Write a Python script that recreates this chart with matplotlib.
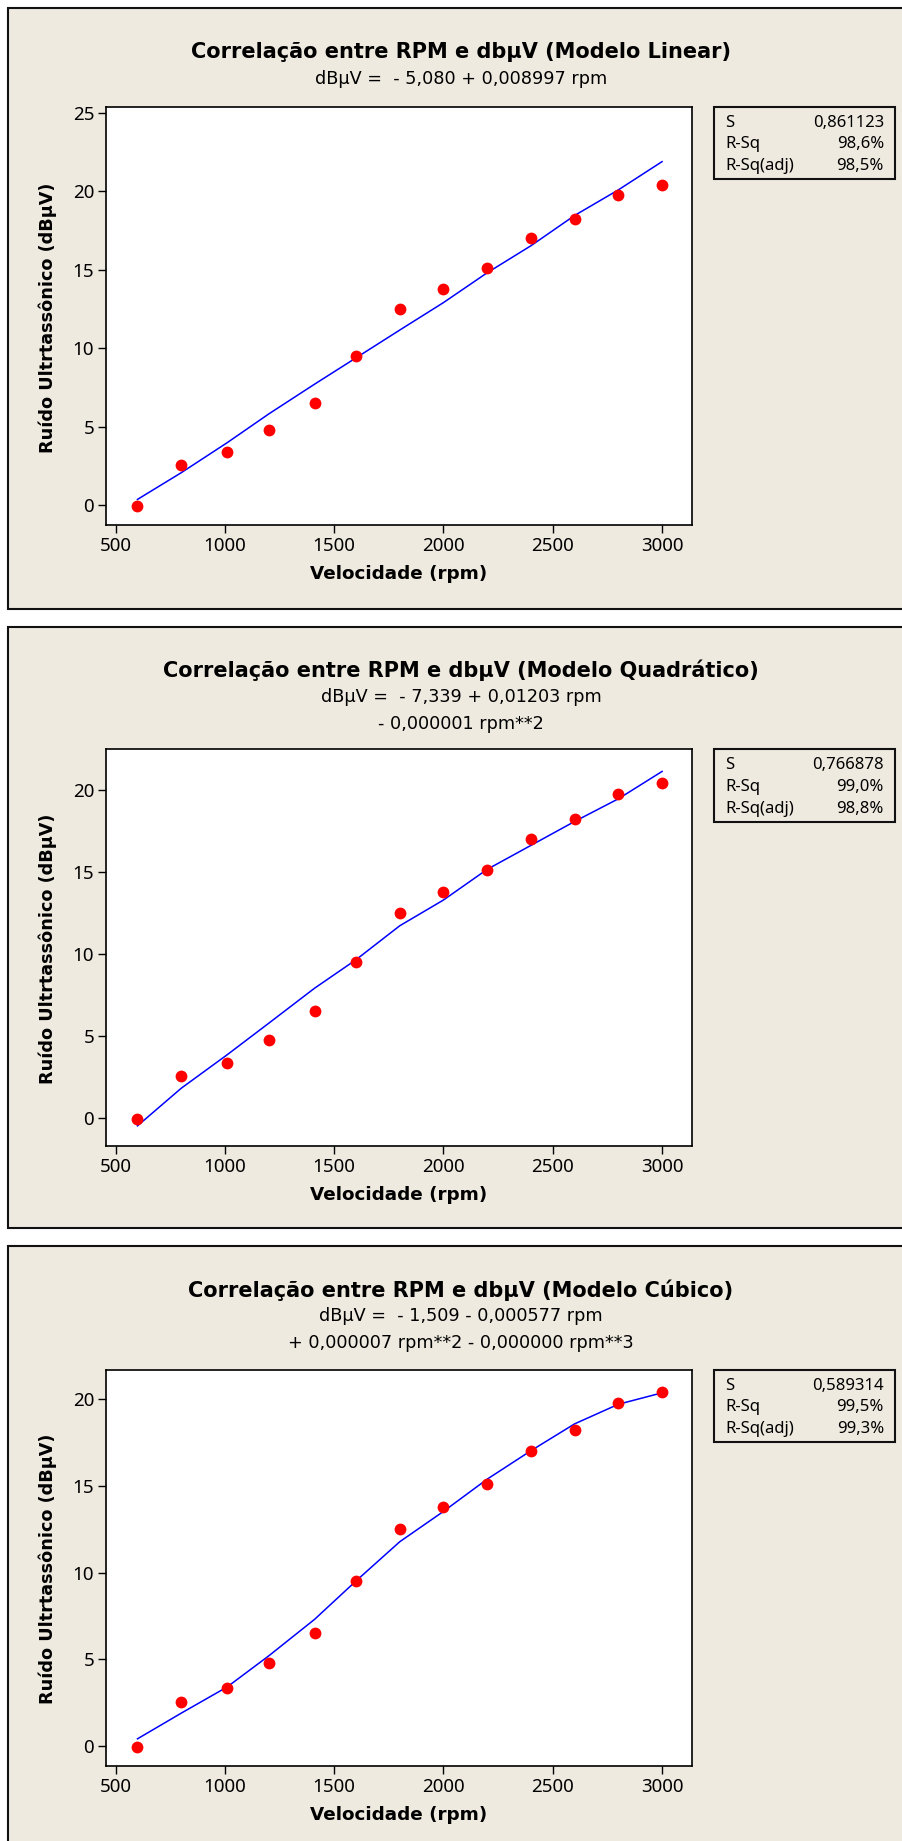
import matplotlib
matplotlib.use("Agg")
import matplotlib.pyplot as plt
from matplotlib.patches import Rectangle

plt.rcParams['font.family'] = ['Noto Sans', 'DejaVu Sans']

# measured data (rpm vs dBuV)
rpm = [600, 800, 1010, 1200, 1410, 1600, 1800, 2000, 2200, 2400, 2600, 2800, 3000]
dbuv = [-0.04, 2.56, 3.35, 4.77, 6.52, 9.52, 12.52, 13.79, 15.12, 16.99, 18.23, 19.78, 20.41]

# fitted values
fit_linear = [0.36, 2.06, 3.97, 5.80, 7.70, 9.38, 11.15, 12.90, 14.80, 16.52, 18.45, 20.08, 21.88]
fit_quad = [-0.48, 1.81, 3.85, 5.77, 7.91, 9.65, 11.72, 13.29, 15.16, 16.62, 18.08, 19.46, 21.13]
fit_cubic = [0.41, 1.89, 3.40, 5.19, 7.30, 9.52, 11.78, 13.53, 15.39, 17.03, 18.58, 19.71, 20.37]

titles = ["Correlação entre RPM e dbµV (Modelo Linear)",
          "Correlação entre RPM e dbµV (Modelo Quadrático)",
          "Correlação entre RPM e dbµV (Modelo Cúbico)"]
equations = [["dBµV =  - 5,080 + 0,008997 rpm"],
             ["dBµV =  - 7,339 + 0,01203 rpm", "- 0,000001 rpm**2"],
             ["dBµV =  - 1,509 - 0,000577 rpm", "+ 0,000007 rpm**2 - 0,000000 rpm**3"]]
stat_names = ["S", "R-Sq", "R-Sq(adj)"]
stat_values = [["0,861123", "98,6%", "98,5%"],
               ["0,766878", "99,0%", "98,8%"],
               ["0,589314", "99,5%", "99,3%"]]
fits = [fit_linear, fit_quad, fit_cubic]
yticks = [[0, 5, 10, 15, 20, 25], [0, 5, 10, 15, 20], [0, 5, 10, 15, 20]]

W, H = 903, 1841
BG = '#EEEAE0'
DV = ['DejaVu Sans']

# layout in pixels
panel_tops = [8.5, 626.7, 1246.4]
panel_bottoms = [609, 1228, 1850]
axes_tops = [106.7, 749.3, 1369.6]
axes_bottoms = [525, 1146, 1765.7]
ylims = [(-1.27, 25.38), (-1.71, 22.48), (-1.14, 21.71)]

fig = plt.figure(figsize=(W / 100, H / 100), dpi=100, facecolor='white')


def fx(x):
    return x / W


def fy(y):
    return 1 - y / H


for i in range(3):
    pt, pb = panel_tops[i], panel_bottoms[i]
    fig.patches.append(Rectangle((fx(8.3), fy(pb)), fx(W + 20 - 8.3), (pb - pt) / H,
                                 transform=fig.transFigure, facecolor=BG,
                                 edgecolor='#111111', linewidth=1.5, zorder=-2))

    # title and equation
    fig.text(fx(461), fy(pt + 43.5), titles[i], ha='center', va='center',
             fontsize=15, fontweight='bold', family=DV)
    for k, line in enumerate(equations[i]):
        fig.text(fx(461), fy(pt + 70 + 27 * k), line, ha='center', va='center',
                 fontsize=12.7, family=DV)

    at, ab = axes_tops[i], axes_bottoms[i]
    ax = fig.add_axes([fx(106), fy(ab), fx(692 - 106), (ab - at) / H])
    ax.set_zorder(1)
    ax.set_facecolor('white')
    ax.plot(rpm, fits[i], color='#0000FF', linewidth=1.1, zorder=2)
    ax.plot(rpm, dbuv, 'o', color='#FF0000', markersize=8.5, markeredgewidth=0, zorder=3)
    ax.set_xlim(456, 3137)
    ax.set_ylim(*ylims[i])
    ax.set_xticks([500, 1000, 1500, 2000, 2500, 3000])
    ax.set_yticks(yticks[i])
    ax.tick_params(labelsize=13.5, length=5.5, width=1, pad=3)
    for s in ax.spines.values():
        s.set_linewidth(1.2)

    # axis labels
    fig.text(fx(399), fy(ab + 49), "Velocidade (rpm)", ha='center', va='center',
             fontsize=13.2, fontweight='bold', family=DV)
    fig.text(fx(48), fy((at + ab) / 2 + 1.5), "Ruído Ultrtassônico (dBµV)", ha='center',
             va='center', rotation=90, fontsize=12.7, fontweight='bold', family=DV)

    # stats box
    bx0, bx1 = 713.7, 895.3
    fig.patches.append(Rectangle((fx(bx0), fy(at + 72.3)), fx(bx1 - bx0), 72.3 / H,
                                 transform=fig.transFigure, facecolor=BG,
                                 edgecolor='#111111', linewidth=1.5, zorder=-1))
    for k in range(3):
        yy = fy(at + 16 + 21.7 * k)
        fig.text(fx(725), yy, stat_names[k], ha='left', va='center', fontsize=12)
        fig.text(fx(884), yy, stat_values[i][k], ha='right', va='center', fontsize=12)

fig.savefig('out.png', dpi=100, facecolor='white')
